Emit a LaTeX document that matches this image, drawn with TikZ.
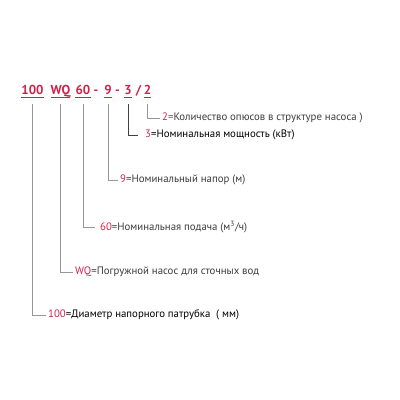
\documentclass[tikz,border=0pt]{standalone}
\usepackage{fontspec}
\setmainfont{PT Sans}
\definecolor{codered}{RGB}{204,36,72}
\definecolor{legline}{RGB}{150,150,150}
\definecolor{legtext}{RGB}{60,60,60}
\tikzset{
  code/.style={anchor=base, inner sep=0pt, text=codered, font=\bfseries\fontsize{13}{13}\selectfont},
  sep/.style={anchor=base, inner sep=0pt, text=codered, font=\bfseries\fontsize{13}{13}\selectfont},
  uline/.style={draw=codered, line width=1.3pt},
  leg/.style={draw=legline, line width=0.9pt},
  legtxt/.style={anchor=west, inner sep=2pt, text=legtext, font=\fontsize{10.8}{11}\selectfont},
}
\begin{document}
\begin{tikzpicture}[x=1pt, y=-1pt]
   \useasboundingbox (0,0) rectangle (400,400);
   \def\yb{94};    % baseline of the code
   \def\yu{97.5};  % underline
   \def\yv{104};   % top of the leader lines
   % code
   \node[code] (c100) at (32.5,\yb) {100};
   \node[code] (cwq)  at (60.5,\yb) {WQ};
   \node[code] (c60)  at (83,\yb)   {60};
   \node[sep]  (s1)   at (96,\yb)   {-};
   \node[code] (c9)   at (108,\yb)  {9};
   \node[sep]  (s2)   at (117.5,\yb) {-};
   \node[code] (c3)   at (128,\yb)  {3};
   \node[sep]  (s3)   at (138.5,\yb) {/};
   \node[code] (c2)   at (147.5,\yb) {2};
   % underlines
   \foreach \c in {c100,cwq,c60,c9,c3,c2}
      \draw[uline] (\c.west |- 0,\yu) -- (\c.east |- 0,\yu);
   % legend
   \node[legtxt] (l2)   at (160,118) {\textcolor{codered}{2=}Количество опюсов в структуре насоса )};
   \node[legtxt] (l3)   at (143,135) {\textcolor{codered}{3}\textcolor{black}{=Номинальная мощность (кВт)}};
   \node[legtxt] (l9)   at (118,180) {\textcolor{codered}{9}=Номинальный напор (м)};
   \node[legtxt] (l60)  at (98,227)  {\textcolor{codered}{60}=Номинальная подача (м\textsuperscript{3}/ч)};
   \node[legtxt] (lwq)  at (73,272)  {\textcolor{codered}{WQ}=Погружной насос для сточных вод};
   \node[legtxt] (l100) at (46,315)  {\textcolor{codered}{100}\textcolor{black}{=Диаметр напорного патрубка \ ( мм)}};
   % leaders
   \draw[leg] (c2.south |- 0,\yv) |- (l2.west);
   \draw[leg, draw=black!75, line width=0.7pt, shorten >=5pt] (c3.south |- 0,\yv) |- (l3.west);
   \draw[leg] (c9.south |- 0,\yv) |- (l9.west);
   \draw[leg, shorten >=3pt] (c60.south |- 0,\yv) |- (l60.west);
   \draw[leg] (cwq.south |- 0,\yv) |- (lwq.west);
   \draw[leg] (c100.south |- 0,\yv) |- (l100.west);
\end{tikzpicture}
\end{document}
